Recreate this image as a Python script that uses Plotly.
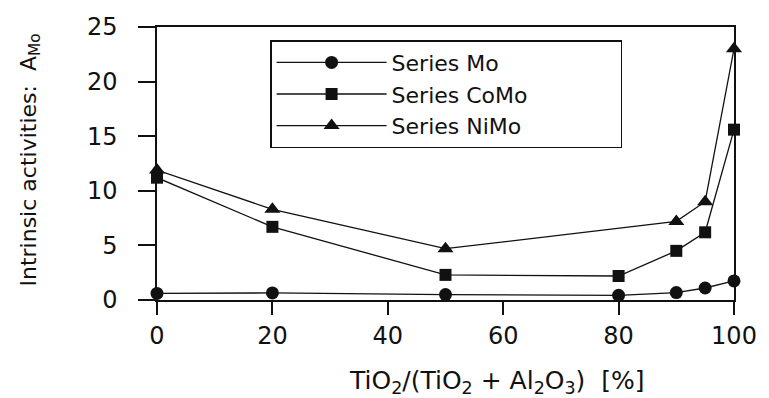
import plotly.graph_objects as go

# TiO2 fraction of the support, in percent
tio2_pct = [0, 20, 50, 80, 90, 95, 100]
tio2_pct_nimo = [0, 20, 50, 90, 95, 100]

# Intrinsic activities A_Mo per catalyst series
a_mo = [0.6, 0.65, 0.5, 0.43, 0.68, 1.1, 1.75]
a_como = [11.2, 6.7, 2.3, 2.2, 4.5, 6.2, 15.6]
a_nimo = [11.9, 8.3, 4.7, 7.2, 9.0, 23.0]

series_names = ["Series Mo", "Series CoMo", "Series NiMo"]
x_ticks = [0, 20, 40, 60, 80, 100]
y_ticks = [0, 5, 10, 15, 20, 25]

FONT = "DejaVu Sans"
INK = "#111111"

fig = go.Figure()
for name, xs, ys, sym, size in [
    (series_names[0], tio2_pct, a_mo, "circle", 13),
    (series_names[1], tio2_pct, a_como, "square", 12),
    (series_names[2], tio2_pct_nimo, a_nimo, "triangle-up", 14),
]:
    fig.add_trace(go.Scatter(
        x=xs, y=ys, name=name, mode="lines+markers",
        line=dict(color=INK, width=1.3),
        marker=dict(symbol=sym, size=size, color=INK),
        cliponaxis=False,
    ))

axis_common = dict(
    showgrid=False, zeroline=False, showline=True, mirror=True,
    linecolor=INK, linewidth=1.5, ticks="outside", tickwidth=1.5,
    tickcolor=INK, tickfont=dict(family=FONT, size=24, color=INK),
)

fig.update_xaxes(range=[0, 100], tickvals=x_ticks, ticklen=13,
                 ticklabelstandoff=0, **axis_common)
fig.update_yaxes(range=[0, 25], tickvals=y_ticks, ticklen=17,
                 ticklabelstandoff=16, **axis_common)

fig.add_annotation(
    text="TiO<sub>2</sub>/(TiO<sub>2</sub> + Al<sub>2</sub>O<sub>3</sub>)\u00a0\u00a0[%]",
    xref="paper", yref="paper", x=0.59, y=0, xanchor="center", yanchor="middle",
    yshift=-82, showarrow=False, font=dict(family=FONT, size=25, color=INK),
)
fig.add_annotation(
    text="Intrinsic activities:\u00a0\u00a0A<sub>Mo</sub>",
    xref="paper", yref="paper", x=0, y=0.5, xanchor="center", yanchor="middle",
    xshift=-127, yshift=3, textangle=-90, showarrow=False,
    font=dict(family=FONT, size=22, color=INK),
)

# one entry per row: wide entries wrap in a horizontal legend
fig.update_layout(
    width=769, height=398,
    margin=dict(l=157, r=32, t=27, b=98),
    paper_bgcolor="white", plot_bgcolor="white",
    showlegend=True,
    legend=dict(
        orientation="h",
        x=0.196, y=0.952, xanchor="left", yanchor="top",
        bgcolor="white", bordercolor=INK, borderwidth=1.5,
        font=dict(family=FONT, size=22, color=INK),
        itemwidth=110, tracegroupgap=0,
        entrywidth=224, entrywidthmode="pixels",
    ),
)

fig.write_html("out.html")
